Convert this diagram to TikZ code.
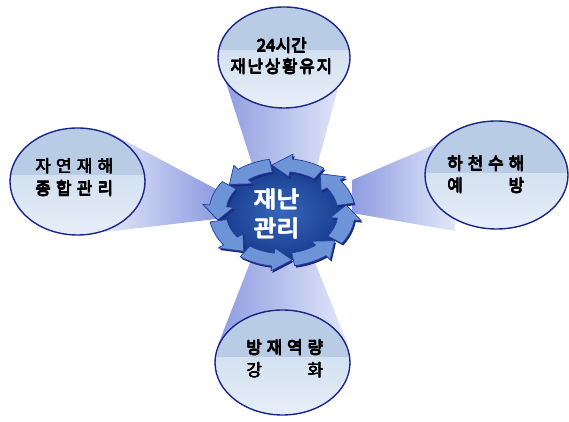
\documentclass[tikz,border=0pt]{standalone}
\usepackage{fontspec}
\newfontfamily\kr{Noto Sans CJK KR}
\usetikzlibrary{calc}
\newcommand\kthick[2]{\leavevmode\rlap{\kern#1\relax #2}\rlap{\raisebox{#1}{#2}}\rlap{\kern#1\relax\raisebox{#1}{#2}}\rlap{\kern0.5\dimexpr#1\relax\raisebox{0.5\dimexpr#1\relax}{#2}}#2}
\definecolor{beamdark}{HTML}{8E9CE0}
\definecolor{beamlight}{HTML}{E2E7F8}
\definecolor{bandtop}{HTML}{B8CCE6}
\definecolor{bandlow}{HTML}{D4E1F0}
\definecolor{bandlow2}{HTML}{E6EEF8}
\definecolor{rimc}{HTML}{1A2688}
\definecolor{coredark}{HTML}{173A8E}
\definecolor{corelight}{HTML}{3667BA}
\definecolor{arrowc}{HTML}{6E94D8}
\definecolor{arrowline}{HTML}{22409A}
\definecolor{arrowshadow}{HTML}{1A2A7E}
\begin{document}
\begin{tikzpicture}[x=1pt,y=1pt,
  lbl/.style={font=\kr\fontsize{17}{19}\selectfont, text=black, inner sep=0pt},
  corelbl/.style={font=\kr\fontsize{23}{25}\selectfont, text=white, inner sep=0pt},
  rim/.style={draw=rimc, line width=1.4pt},
  ringarrow/.style={fill=arrowc, draw=arrowline, line width=0.7pt, line join=round,
     preaction={fill=arrowshadow, transform canvas={xshift=1.4pt, yshift=-2pt}}}]
\useasboundingbox (0,0) rectangle (569,422);

% light beams
\shade[left color=beamdark, right color=beamlight] (222,352) -- (343,352) -- (316,252) -- (254,252) -- cycle;
\shade[left color=beamdark, right color=beamlight] (253,167) -- (312,167) -- (348,77) -- (218,77) -- cycle;
\shade[left color=beamlight, right color=beamdark] (105,292) -- (216,233) -- (216,203) -- (105,190) -- cycle;
\shade[left color=beamdark, right color=beamlight] (352,242) -- (455,286) -- (455,191) -- (352,209) -- cycle;

% satellite ellipses: top, left, right, bottom
\foreach \cx/\cy/\rx/\ry/\by in {284/364.5/66/50.5/372, 77.5/240.5/67.5/53.5/247, 496.5/247/71.5/54/249, 282.5/59.5/67.5/52.5/65}{
  \begin{scope}
    \clip (\cx,\cy) ellipse [x radius=\rx, y radius=\ry];
    \shade[top color=bandlow, bottom color=bandlow2] (\cx-\rx,\cy-\ry) rectangle (\cx+\rx,\by);
    \fill[bandtop] (\cx-\rx,\by) rectangle (\cx+\rx,\cy+\ry);
  \end{scope}
  \draw[rim] (\cx,\cy) ellipse [x radius=\rx, y radius=\ry];
}

% core
\begin{scope}[shift={(282,209.5)}]
  \shade[inner color=corelight, outer color=coredark] (0,0) ellipse [x radius=65, y radius=48];
  \foreach \s in {10,55,100,145,190,235,280,325}{
    \pgfmathsetmacro\h{\s+27}
    \pgfmathsetmacro\e{\s+44}
    \path[ringarrow] (\s:73 and 54) arc[start angle=\s, end angle=\h, x radius=73, y radius=54]
      -- (\h:80 and 59) -- (\e:65 and 48) -- (\h:49 and 36) -- (\h:56 and 41)
      arc[start angle=\h, end angle=\s, x radius=56, y radius=41] -- cycle;
  }
\end{scope}

% texts
\node[lbl] (t1a) at (281.5,376.5) {\kthick{0.6pt}{24시간}};
\node[lbl] (t1b) at (281,355.5) {\kthick{0.6pt}{\makebox[102pt]{재\hfill 난\hfill 상\hfill 황\hfill 유\hfill 지}}};
\node[lbl] (t2a) at (74,256) {\kthick{0.6pt}{\makebox[78pt]{자\hfill 연\hfill 재\hfill 해}}};
\node[lbl] (t2b) at (74,233.5) {\kthick{0.6pt}{\makebox[78pt]{종\hfill 합\hfill 관\hfill 리}}};
\node[lbl] (t3a) at (485.5,258.5) {\kthick{0.6pt}{\makebox[77pt]{하\hfill 천\hfill 수\hfill 해}}};
\node[lbl] (t3b) at (485.5,236.5) {\kthick{0.6pt}{\makebox[77pt]{예\hfill 방}}};
\node[lbl] (t4a) at (284.5,74.5) {\kthick{0.6pt}{\makebox[77pt]{방\hfill 재\hfill 역\hfill 량}}};
\node[lbl] (t4b) at (284.5,52) {\kthick{0.6pt}{\makebox[77pt]{강\hfill 화}}};
\node[corelbl] (c1) at (276,223) {\kthick{1pt}{\scalebox{1.08}[1]{재난}}};
\node[corelbl] (c2) at (276,194) {\kthick{1pt}{\scalebox{1.08}[1]{관리}}};
\end{tikzpicture}
\end{document}
